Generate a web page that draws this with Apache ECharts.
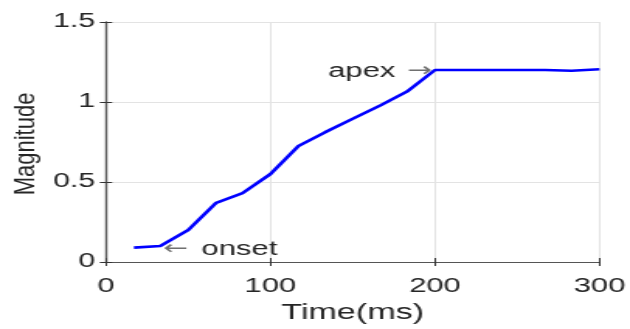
<!DOCTYPE html>
<html>
<head>
<meta charset="utf-8">
<script src="https://cdn.jsdelivr.net/npm/echarts@6/dist/echarts.min.js"></script>
<style>
    html, body { margin: 0; padding: 0; background: #fff; overflow: hidden; }
    /* the reference figure is stretched sideways, so draw narrow and widen */
    #magnitude-chart-container {
        width: 406px;
        height: 329px;
        transform: scaleX(1.5517);
        transform-origin: 0 0;
    }
</style>
</head>
<body>
<div id="magnitude-chart-container"></div>
<script>
var timeMs = [17, 33, 50, 67, 83, 100, 117, 133, 150, 167, 183, 200, 217, 233, 250, 267, 283, 300];
var magnitude = [0.09, 0.10, 0.20, 0.37, 0.43, 0.55, 0.725, 0.81, 0.895, 0.98, 1.065, 1.20, 1.20, 1.20, 1.20, 1.20, 1.195, 1.205];

var xTicks = [0, 100, 200, 300];
var yTicks = [0, 0.5, 1, 1.5];

var annotations = [
    { text: 'apex', x: 200, y: 1.2, side: 'left' },
    { text: 'onset', x: 33, y: 0.1, side: 'right' }
];

var font = 'Liberation Sans, Arial, sans-serif';
var ink = '#262626';
var gridColor = '#e3e3e3';

var dom = document.getElementById('magnitude-chart-container');
var magnitudeChart = echarts.init(dom, null, {
    renderer: 'canvas',
    useDirtyRect: false
});

var option;

var points = timeMs.map(function (t, i) {
    return [t, magnitude[i]];
});

var arrowStyle = { color: '#707070', fontFamily: 'DejaVu Sans', fontSize: 19 };

var markData = annotations.map(function (a) {
    var fmt = a.side === 'left' ? a.text + ' {arrR|→}' : '{arrL|←} ' + a.text;
    return {
        coord: [a.x, a.y],
        label: {
            show: true,
            position: a.side,
            distance: 2,
            offset: a.side === 'left' ? [0, 1] : [0, 3],
            formatter: fmt,
            fontFamily: font,
            fontSize: 20,
            color: ink,
            rich: {
                arrR: Object.assign({ padding: [0, 0, 0, 2] }, arrowStyle),
                arrL: Object.assign({ padding: [0, 3, 0, 0] }, arrowStyle)
            }
        }
    };
});

function sideAxis(position, min, max, interval) {
    return {
        type: 'value',
        position: position,
        min: min,
        max: max,
        interval: interval,
        axisLine: { show: true, lineStyle: { color: '#555', width: 1.2 } },
        axisTick: { show: true, inside: true, length: 4, lineStyle: { color: '#333' } },
        axisLabel: { show: false },
        splitLine: { show: false }
    };
}

option = {
    animation: false,
    backgroundColor: '#fff',
    grid: {
        left: 68.3,
        right: 18,
        top: 22,
        bottom: 62,
        containLabel: false
    },
    xAxis: [
        {
            type: 'value',
            min: xTicks[0],
            max: xTicks[xTicks.length - 1],
            interval: 100,
            name: 'Time(ms)',
            nameLocation: 'middle',
            nameGap: 40,
            nameTextStyle: { fontFamily: font, fontSize: 22, color: ink },
            axisLine: { show: true, lineStyle: { color: '#444', width: 1.2 } },
            axisTick: { show: true, inside: true, length: 4, lineStyle: { color: '#333' } },
            axisLabel: { fontFamily: font, fontSize: 20, color: ink, margin: 14 },
            splitLine: { show: true, lineStyle: { color: gridColor, width: 1 } }
        },
        sideAxis('top', xTicks[0], xTicks[xTicks.length - 1], 100)
    ],
    yAxis: [
        {
            type: 'value',
            min: yTicks[0],
            max: yTicks[yTicks.length - 1],
            interval: 0.5,
            axisLine: { show: true, lineStyle: { color: '#444', width: 1.2 } },
            axisTick: { show: true, inside: true, length: 4, lineStyle: { color: '#333' } },
            axisLabel: { fontFamily: font, fontSize: 19.5, color: ink, margin: 7 },
            splitLine: { show: true, lineStyle: { color: gridColor, width: 1 } }
        },
        sideAxis('right', yTicks[0], yTicks[yTicks.length - 1], 0.5)
    ],
    graphic: [
        {
            // y name drawn by hand so it is only partly stretched
            type: 'text',
            x: 16.8,
            y: 144,
            rotation: Math.PI / 2,
            scaleY: 0.8,
            style: {
                text: 'Magnitude',
                fontFamily: font,
                fontSize: 22,
                fill: ink,
                align: 'center',
                verticalAlign: 'middle'
            }
        }
    ],
    series: [
        {
            type: 'line',
            data: points,
            showSymbol: false,
            symbol: 'none',
            lineStyle: { color: '#0000ff', width: 2.6 },
            itemStyle: { color: '#0000ff' },
            markPoint: {
                symbol: 'circle',
                symbolSize: 0,
                silent: true,
                data: markData
            }
        }
    ]
};

if (option && typeof option === 'object') {
    magnitudeChart.setOption(option);
}
window.addEventListener('resize', magnitudeChart.resize);
</script>
</body>
</html>
